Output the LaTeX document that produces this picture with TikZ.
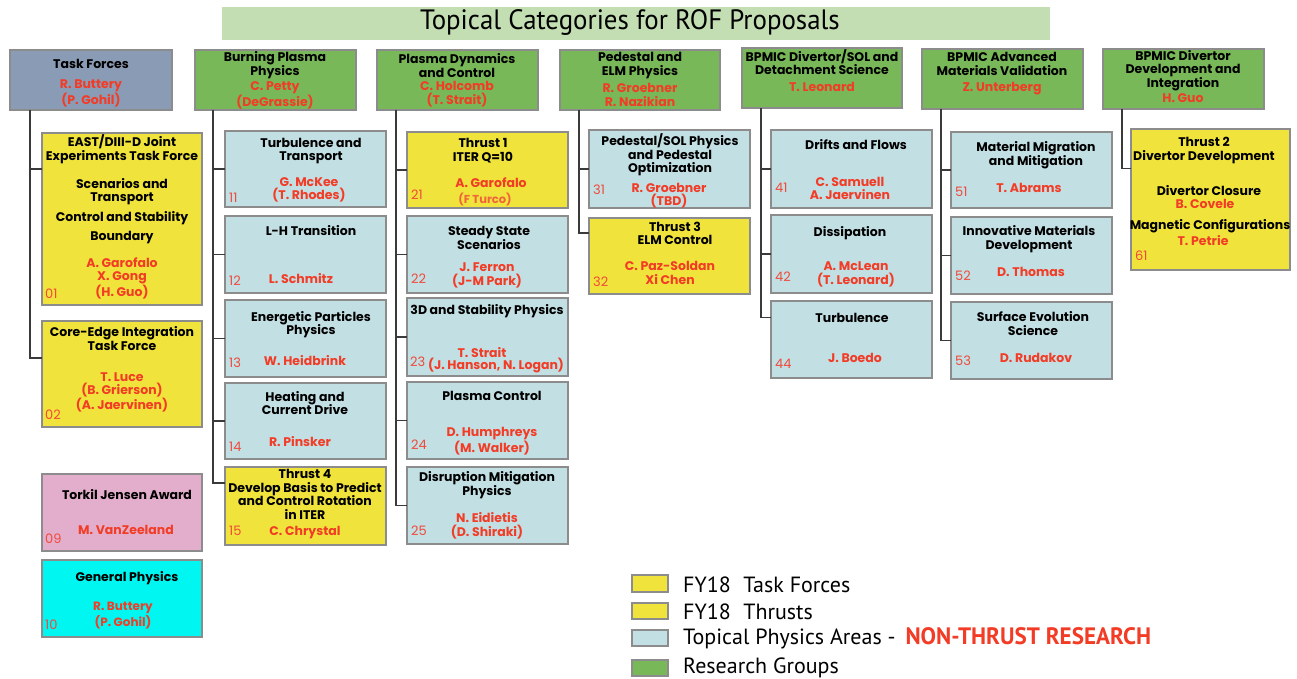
\documentclass[tikz,border=0pt]{standalone}
\usepackage{fontspec}
\setmainfont{Poppins}
\newfontfamily\legfont{PT Sans}
\usetikzlibrary{calc}
\definecolor{tfblue}{HTML}{8A9BB5}
\definecolor{grpgreen}{HTML}{78B858}
\definecolor{yelfill}{HTML}{F0E43C}
\definecolor{tpablue}{HTML}{C2DFE4}
\definecolor{pinkfill}{HTML}{E3AECB}
\definecolor{cyanfill}{HTML}{00F6F0}
\definecolor{titlegreen}{HTML}{C3DEB3}
\definecolor{redtxt}{HTML}{F23C26}
\definecolor{numred}{HTML}{F04A3A}
\definecolor{orangetxt}{HTML}{F0643A}
\definecolor{boxgray}{HTML}{8C8C8C}
\definecolor{connc}{HTML}{3A3A3A}
\newcommand\bxf{\fontsize{12.5}{13.6}\selectfont\bfseries}
\newcommand\smf{\fontsize{12}{16}\selectfont\bfseries}
\newcommand\tif{\fontsize{11.5}{13}\selectfont\bfseries}
\newcommand\numf{\fontsize{13}{14}\selectfont}
\newcommand\mkbox[6]{\node[#6, minimum width={#4-#2}, minimum height={#5-#3}] (#1) at ({(#2+#4)/2},{(#3+#5)/2}) {};}
\tikzset{
  bx/.style={draw=boxgray, line width=1.5pt, inner sep=0pt, outer sep=0pt},
  grp/.style={bx, fill=grpgreen},
  tfb/.style={bx, fill=tfblue},
  tpa/.style={bx, fill=tpablue},
  yel/.style={bx, fill=yelfill},
  pnk/.style={bx, fill=pinkfill},
  cyn/.style={bx, fill=cyanfill},
  ttl/.style={font=\bxf, align=center, text=black, inner sep=0pt},
  nm/.style={font=\bxf, align=center, text=redtxt, inner sep=0pt},
  nmo/.style={font=\tif, align=center, text=orangetxt, inner sep=0pt},
  num/.style={font=\numf, text=numred, anchor=west, inner sep=0pt},
  conn/.style={draw=connc, line width=1.2pt},
  sw/.style={draw=boxgray, line width=1.2pt, inner sep=0pt},
  leg/.style={font=\legfont\fontsize{22}{24}\selectfont, anchor=west, inner sep=0pt},
}
\begin{document}
\begin{tikzpicture}[x=1pt,y=-1pt]
\useasboundingbox (0,0) rectangle (1297,679);
\fill[white] (0,0) rectangle (1297,679);
% title
\node[fill=titlegreen, minimum width=828, minimum height=33, inner sep=0pt] (title) at (636,23.5) {};
\node[inner sep=0pt, font=\legfont\fontsize{28}{30}\selectfont] (titletext) at (630,23) {\scalebox{0.96}[1]{Topical Categories for ROF Proposals}};
% ---------- top row ----------
\mkbox{tf}{10}{50}{172}{110}{tfb}
\node[ttl] (tf-t) at (91,64) {Task Forces};
\node[nm] (tf-n) at (91,93.5) {R. Buttery\\(P. Gohil)};
\mkbox{bp}{195}{50}{356}{110}{grp}
\node[ttl] (bp-t) at (275,65) {Burning Plasma\\Physics};
\node[nm] (bp-n) at (275,95.5) {C. Petty\\(DeGrassie)};
\mkbox{pd}{377}{50}{538}{110}{grp}
\node[ttl] (pd-t) at (457,65.5) {Plasma Dynamics\\and Control};
\node[nm] (pd-n) at (457,94) {C. Holcomb\\(T. Strait)};
\mkbox{pe}{560}{50}{720}{110}{grp}
\node[ttl] (pe-t) at (640,65.5) {Pedestal and\\ELM Physics};
\node[nm] (pe-n) at (640,95) {R. Groebner\\R. Nazikian};
\mkbox{ds}{742}{48}{902}{108}{grp}
\node[ttl] (ds-t) at (822,62) {BPMIC Divertor/SOL and\\Detachment Science};
\node[nm] (ds-n) at (822,87) {T. Leonard};
\mkbox{am}{922}{49}{1083}{109}{grp}
\node[ttl] (am-t) at (1002,64) {BPMIC Advanced\\Materials Validation};
\node[nm] (am-n) at (1002,89) {Z. Unterberg};
\mkbox{dd}{1103}{49}{1264}{109}{grp}
\node[ttl] (dd-t) at (1183,70.5) {BPMIC Divertor\\Development and\\Integration};
\node[nm] (dd-n) at (1183,98) {H. Guo};
% ---------- column 1 ----------
\mkbox{c01}{42}{133}{202}{305}{yel}
\node[ttl] (c01-a) at (122,149.5) {EAST/DIII-D Joint\\Experiments Task Force};
\node[ttl] (c01-b) at (122,191.5) {Scenarios and\\Transport};
\node[ttl] (c01-c) at (122,218) {Control and Stability};
\node[ttl] (c01-d) at (122,238) {Boundary};
\node[nm] (c01-n) at (122,278.5) {A. Garofalo\\X. Gong\\(H. Guo)};
\node[num] (c01-k) at (45,294) {01};
\mkbox{c02}{42}{321}{202}{427}{yel}
\node[ttl] (c02-t) at (122,338.5) {Core-Edge Integration\\Task Force};
\node[nm] (c02-n) at (122,392.5) {T. Luce\\(B. Grierson)\\(A. Jaervinen)};
\node[num] (c02-k) at (45,415) {02};
\mkbox{c09}{42}{474}{202}{551}{pnk}
\node[ttl] (c09-t) at (127,495) {Torkil Jensen Award};
\node[nm] (c09-n) at (126,530) {M. VanZeeland};
\node[num] (c09-k) at (45,539) {09};
\mkbox{c10}{42}{560}{202}{637}{cyn}
\node[ttl] (c10-t) at (127,578) {General Physics};
\node[nm, font=\smf] (c10-n) at (123,616) {R. Buttery\\(P. Gohil)};
\node[num] (c10-k) at (45,625) {10};
% ---------- column 2 ----------
\mkbox{c11}{225}{131}{386}{207}{tpa}
\node[ttl] (c11-t) at (311,151) {Turbulence and\\Transport};
\node[nm] (c11-n) at (309,190) {G. McKee\\(T. Rhodes)};
\node[num] (c11-k) at (229,198) {11};
\mkbox{c12}{225}{216}{386}{293}{tpa}
\node[ttl] (c12-t) at (311,231) {L-H Transition};
\node[nm] (c12-n) at (301,279) {L. Schmitz};
\node[num] (c12-k) at (229,281) {12};
\mkbox{c13}{225}{300}{386}{377}{tpa}
\node[ttl] (c13-t) at (311,324.5) {Energetic Particles\\Physics};
\node[nm] (c13-n) at (305,361) {W. Heidbrink};
\node[num] (c13-k) at (229,363) {13};
\mkbox{c14}{225}{383}{386}{459}{tpa}
\node[ttl] (c14-t) at (305,403) {Heating and\\Current Drive};
\node[nm] (c14-n) at (300,442) {R. Pinsker};
\node[num] (c14-k) at (229,447) {14};
\mkbox{c15}{225}{467}{386}{545}{yel}
\node[ttl] (c15-t) at (305,494.5) {Thrust 4\\Develop Basis to Predict\\and Control Rotation\\in ITER};
\node[nm] (c15-n) at (305,533) {C. Chrystal};
\node[num] (c15-k) at (229,531) {15};
% ---------- column 3 ----------
\mkbox{c21}{407}{132}{568}{208}{yel}
\node[ttl] (c21-t) at (483,150.5) {Thrust 1\\ITER Q=10};
\node[nm] (c21-n) at (491,183) {A. Garofalo};
\node[nmo] (c21-m) at (485,199) {(F Turco)};
\node[num] (c21-k) at (411,195) {21};
\mkbox{c22}{407}{216}{568}{293}{tpa}
\node[ttl] (c22-t) at (489,238) {Steady State\\Scenarios};
\node[nm] (c22-n) at (487,275.5) {J. Ferron\\(J-M Park)};
\node[num] (c22-k) at (411,279) {22};
\mkbox{c23}{407}{298}{568}{376}{tpa}
\node[ttl] (c23-t) at (487,311) {3D and Stability Physics};
\node[nm] (c23-n) at (482,353) {T. Strait};
\node[nm] (c23-m) at (496,366) {(J. Hanson, N. Logan)};
\node[num] (c23-k) at (410,362) {23};
\mkbox{c24}{407}{382}{568}{459}{tpa}
\node[ttl] (c24-t) at (492,396) {Plasma Control};
\node[nm] (c24-n) at (492,441.5) {D. Humphreys\\(M. Walker)};
\node[num] (c24-k) at (411,445) {24};
\mkbox{c25}{407}{467}{568}{544}{tpa}
\node[ttl] (c25-t) at (487,485) {Disruption Mitigation\\Physics};
\node[nm] (c25-n) at (487,526) {N. Eidietis\\(D. Shiraki)};
\node[num] (c25-k) at (411,531) {25};
% ---------- column 4 ----------
\mkbox{c31}{589}{130}{750}{208}{tpa}
\node[ttl] (c31-t) at (670,155) {Pedestal/SOL Physics\\and Pedestal\\Optimization};
\node[nm] (c31-n) at (669,195.5) {R. Groebner\\(TBD)};
\node[num] (c31-k) at (593,190) {31};
\mkbox{c32}{589}{218}{750}{294}{yel}
\node[ttl] (c32-t) at (675,233.5) {Thrust 3\\ELM Control};
\node[nm] (c32-n) at (670,273) {C. Paz-Soldan\\Xi Chen};
\node[num] (c32-k) at (593,282) {32};
% ---------- column 5 ----------
\mkbox{c41}{771}{130}{932}{208}{tpa}
\node[ttl] (c41-t) at (856,145) {Drifts and Flows};
\node[nm] (c41-n) at (850,188.5) {C. Samuell\\A. Jaervinen};
\node[num] (c41-k) at (775,188) {41};
\mkbox{c42}{771}{215}{932}{293}{tpa}
\node[ttl] (c42-t) at (850,233) {Dissipation};
\node[nm] (c42-n) at (856,274.5) {A. McLean\\(T. Leonard)};
\node[num] (c42-k) at (775,277) {42};
\mkbox{c44}{771}{301}{932}{378}{tpa}
\node[ttl] (c44-t) at (852,318) {Turbulence};
\node[nm] (c44-n) at (855,358) {J. Boedo};
\node[num] (c44-k) at (775,364) {44};
% ---------- column 6 ----------
\mkbox{c51}{951}{132}{1112}{208}{tpa}
\node[ttl] (c51-t) at (1036,155) {Material Migration\\and Mitigation};
\node[nm] (c51-n) at (1029,188) {T. Abrams};
\node[num] (c51-k) at (955,192) {51};
\mkbox{c52}{951}{217}{1112}{294}{tpa}
\node[ttl] (c52-t) at (1029,239) {Innovative Materials\\Development};
\node[nm] (c52-n) at (1031,272) {D. Thomas};
\node[num] (c52-k) at (955,276) {52};
\mkbox{c53}{951}{302}{1112}{379}{tpa}
\node[ttl] (c53-t) at (1033,323.5) {Surface Evolution\\Science};
\node[nm] (c53-n) at (1036,358) {D. Rudakov};
\node[num] (c53-k) at (955,361) {53};
% ---------- column 7 ----------
\mkbox{c61}{1131}{129}{1290}{270}{yel}
\node[ttl] (c61-t) at (1204,150.5) {Thrust 2\\Divertor Development};
\node[ttl] (c61-a) at (1209,191) {Divertor Closure};
\node[nm] (c61-b) at (1205,204) {B. Covele};
\node[ttl] (c61-c) at (1210,226) {Magnetic Configurations};
\node[nm] (c61-d) at (1203,241) {T. Petrie};
\node[num] (c61-k) at (1135,256) {61};
% ---------- connectors ----------
\draw[conn] (tf.south west) ++(20,0) |- ($(c01.west)+(0,-50)$);
\draw[conn] (tf.south west) ++(20,0) |- ($(c02.west)+(0,-16)$);
\draw[conn] (bp.south west) ++(18,0) |- (c11.west);
\draw[conn] (bp.south west) ++(18,0) |- (c12.west);
\draw[conn] (bp.south west) ++(18,0) |- (c13.west);
\draw[conn] (bp.south west) ++(18,0) |- (c14.west);
\draw[conn] (bp.south west) ++(18,0) |- ($(c15.west)+(0,-23)$);
\draw[conn] (pd.south west) ++(19,0) |- (c21.west);
\draw[conn] (pd.south west) ++(19,0) |- (c22.west);
\draw[conn] (pd.south west) ++(19,0) |- (c23.west);
\draw[conn] (pd.south west) ++(19,0) |- (c24.west);
\draw[conn] (pd.south west) ++(19,0) |- (c25.west);
\draw[conn] (pe.south west) ++(19,0) |- (c31.west);
\draw[conn] (pe.south west) ++(19,0) |- ($(c32.west)+(0,-23)$);
\draw[conn] (ds.south west) ++(19,0) |- (c41.west);
\draw[conn] (ds.south west) ++(19,0) |- (c42.west);
\draw[conn] (ds.south west) ++(19,0) |- ($(c44.west)+(0,-22)$);
\draw[conn] (am.south west) ++(19,0) |- (c51.west);
\draw[conn] (am.south west) ++(19,0) |- (c52.west);
\draw[conn] (am.south west) ++(19,0) |- (c53.west);
\draw[conn] (dd.south west) ++(19,0) |- ($(c61.west)+(0,-31)$);
% ---------- legend ----------
\node[sw, fill=yelfill, minimum width=36, minimum height=17] (sw1) at (650,583.5) {};
\node[leg] (lg1) at (683,585) {FY18\hspace{0.3em} Task Forces};
\node[sw, fill=yelfill, minimum width=36, minimum height=16] (sw2) at (650,611) {};
\node[leg] (lg2) at (683,612) {FY18\hspace{0.3em} Thrusts};
\node[sw, fill=tpablue, minimum width=36, minimum height=16] (sw3) at (650,638) {};
\node[leg] (lg3) at (683,638) {Topical Physics Areas -\hspace{0.45em}\textcolor{redtxt}{\bfseries\scalebox{1.05}[1.08]{NON-THRUST RESEARCH}}};
\node[sw, fill=grpgreen, minimum width=36, minimum height=16] (sw4) at (650,668) {};
\node[leg] (lg4) at (683,668) {Research Groups};
\end{tikzpicture}
\end{document}
